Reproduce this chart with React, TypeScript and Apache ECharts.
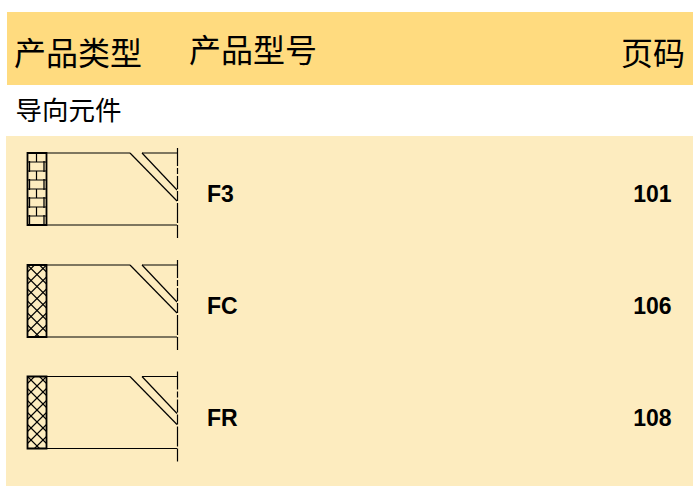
import React, { useEffect, useRef } from "react";
import * as echarts from "echarts";

const headers = ["产品类型", "产品型号", "页码"];
const sectionTitle = "导向元件";
const models = ["F3", "FC", "FR"];
const pages = ["101", "106", "108"];
const rowTops = [153, 265, 376.5];
const hatchKinds = ["brick", "cross", "cross"];

const INK = "#000000";
const line = (x1: number, y1: number, x2: number, y2: number, w = 1.2) => ({
  type: "line",
  shape: { x1, y1, x2, y2 },
  style: { stroke: INK, lineWidth: w },
  silent: true,
});

function symbol(top: number, kind: string) {
  const els: any[] = [];
  const L = 27.5, R = 46.5, B = top + 72;
  if (kind === "brick") {
    for (let i = 1; i < 8; i++) els.push(line(L, top + i * 9, R, top + i * 9, 1));
    for (let i = 0; i < 8; i++) {
      const y = top + i * 9;
      if (i % 2 === 0) els.push(line(36.5, y, 36.5, y + 9, 1.2));
      else {
        els.push(line(29.5, y - 1, 29.5, y + 10, 1.3));
        els.push(line(44, y - 1, 44, y + 10, 1.3));
      }
    }
  } else {
    const step = 12;
    for (let i = -2; i < 7; i++) {
      const y0 = top + i * step;
      const w = R - L;
      const clip = (x1: number, y1: number, x2: number, y2: number) => {
        const s = (y2 - y1) / (x2 - x1);
        let a = [x1, y1], b = [x2, y2];
        if (a[1] < top) a = [x1 + (top - y1) / s, top];
        if (a[1] > B) a = [x1 + (B - y1) / s, B];
        if (b[1] < top) b = [x1 + (top - y1) / s, top];
        if (b[1] > B) b = [x1 + (B - y1) / s, B];
        return [a, b];
      };
      const d1 = clip(L, y0, R, y0 + w);
      if (d1[0][0] < d1[1][0]) els.push(line(d1[0][0], d1[0][1], d1[1][0], d1[1][1], 1.1));
      const d2 = clip(L, y0 + w, R, y0);
      if (d2[0][0] < d2[1][0]) els.push(line(d2[0][0], d2[0][1], d2[1][0], d2[1][1], 1.1));
    }
  }
  els.push({
    type: "rect",
    shape: { x: L, y: top, width: R - L, height: 72 },
    style: { fill: "none", stroke: INK, lineWidth: 1.8 },
    silent: true,
  });
  els.push(line(R, top, 130, top));
  els.push(line(130, top, 177, top + 48));
  els.push(line(142, top, 177, top));
  els.push(line(142, top, 177, top + 37));
  els.push(line(R, B, 177, B));
  const dashes = [[-5, 13], [15, 21], [23, 36], [38, 48], [50, 70], [72, 85]];
  dashes.forEach(([a, b]) => els.push(line(177.5, top + a, 177.5, top + b, 1.2)));
  return els;
}

export default function App() {
  const ref = useRef<HTMLDivElement>(null);
  useEffect(() => {
    const chart = echarts.init(ref.current!, undefined, { renderer: "svg" });
    const cjk = '"Noto Sans CJK SC"';
    const latin = '"Liberation Sans"';
    const text = (s: string, x: number, y: number, size: number, family: string, weight = 400, align = "left") => ({
      type: "text",
      x,
      y,
      style: { text: s, fontSize: size, fontFamily: family, fontWeight: weight, fill: "#000000", textAlign: align, textVerticalAlign: "middle" },
      silent: true,
    });
    const elements: any[] = [
      { type: "rect", shape: { x: 7, y: 12, width: 686, height: 73 }, style: { fill: "#FFDB7F" }, silent: true },
      { type: "rect", shape: { x: 6, y: 136, width: 687, height: 350 }, style: { fill: "#FDECBF" }, silent: true },
      text(headers[0], 14, 51, 32, cjk),
      text(headers[1], 189, 48, 32, cjk),
      text(headers[2], 685, 51, 32, cjk, 400, "right"),
      text(sectionTitle, 15.5, 108, 26.5, cjk),
    ];
    rowTops.forEach((top, i) => {
      elements.push(...symbol(top, hatchKinds[i]));
      elements.push(text(models[i], 207, top + 41, 23, latin, 700));
      elements.push(text(pages[i], 671.5, top + 41, 23, latin, 700, "right"));
    });
    chart.setOption({ animation: false, graphic: { elements } });
    return () => chart.dispose();
  }, []);
  return <div ref={ref} style={{ position: "fixed", left: 0, top: 0, width: 693, height: 486, background: "#fff" }} />;
}
